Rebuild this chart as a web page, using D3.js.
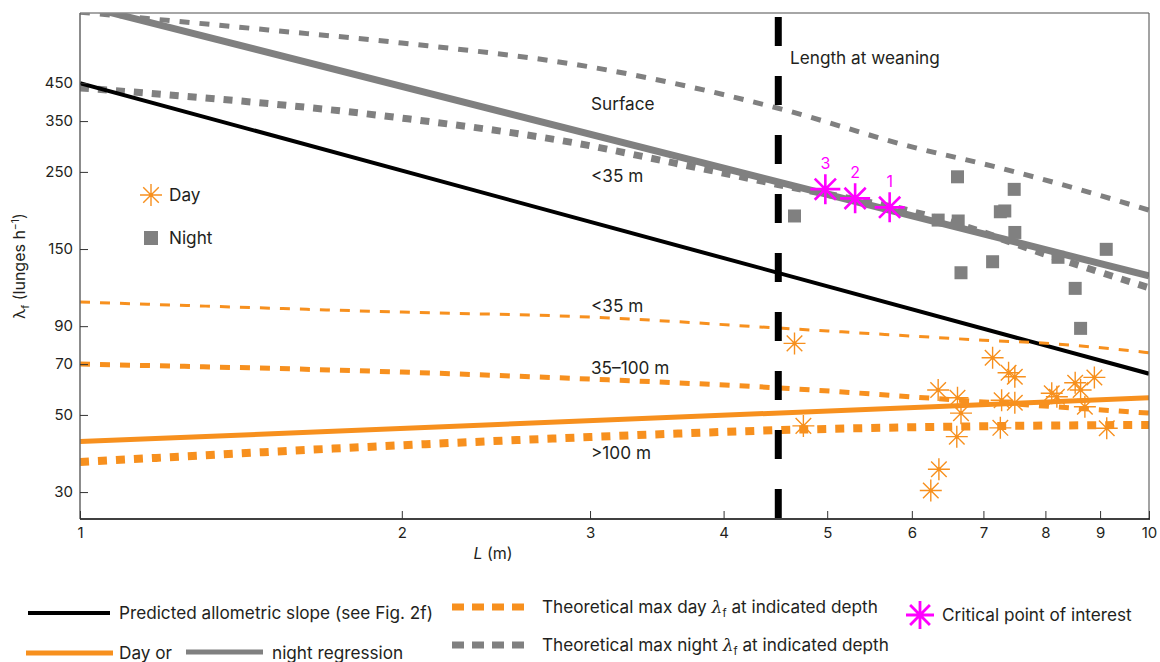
<!DOCTYPE html>
<html>
<head>
<meta charset="utf-8">
<script src="https://cdn.jsdelivr.net/npm/d3@7"></script>
<style>
  html, body { margin: 0; padding: 0; background: #fff; }
  svg { display: block; }
  text { font-family: Inter, "Liberation Sans", Arial, sans-serif; fill: #231f20; }
</style>
</head>
<body>
<svg id="chart" width="1160" height="662"></svg>
<script>
// ---------------- data ----------------
const xTicks = [1, 2, 3, 4, 5, 6, 7, 8, 9, 10];
const yTicks = [30, 50, 70, 90, 150, 250, 350, 450];

// Day observations (asterisks)
const dayL    = [4.66, 4.75, 6.35, 6.62, 6.67, 6.61, 6.36, 6.25, 7.14, 7.39, 7.49, 7.28, 7.49, 7.26, 8.11, 8.20, 8.53, 8.63, 8.89, 8.71, 9.13];
const dayRate = [80.3, 46.5, 59.0, 56.0, 50.6, 43.3, 34.9, 30.3, 73.0, 66.1, 64.4, 55.1, 54.2, 45.9, 57.7, 56.4, 61.9, 59.0, 64.1, 52.8, 45.8];

// Night observations (squares)
const nightL    = [4.66, 6.62, 6.63, 6.35, 7.48, 7.26, 7.33, 7.49, 7.14, 6.67, 8.22, 9.12, 8.53, 8.63];
const nightRate = [186.7, 242, 180.6, 181.7, 222.7, 192, 193, 167.4, 137.9, 128.2, 142, 149.7, 115.6, 88.7];

// Critical points of interest
const criticalL      = [4.98, 5.31, 5.72];
const criticalRate   = [223, 209.8, 197.7];
const criticalLabels = ["3", "2", "1"];

// Lines
const allometricL = [1, 10],  allometricRate = [450, 65.7];
const dayRegL     = [1, 10],  dayRegRate     = [41.9, 56.0];
const nightRegL   = [1, 10],  nightRegRate   = [756, 125.5];

const nightSurfaceL    = [1, 1.5, 2, 3, 4.5, 6, 7.2, 8.5, 10];
const nightSurfaceRate = [720, 640, 587, 501, 381, 295, 258, 225, 194];
const nightShallowL    = [1, 2, 2.9, 3.6, 4.5, 6.5, 8.1, 10];
const nightShallowRate = [436, 357, 303, 265, 230, 180, 143, 116];

const dayShallowL    = [1, 2, 3, 4.5, 6, 7, 8, 10];
const dayShallowRate = [105.6, 98.8, 95.6, 88.9, 84.3, 82.0, 80.4, 75.5];
const dayMidL        = [1, 2, 3, 4.5, 7, 10];
const dayMidRate     = [70, 66.4, 63.4, 59.8, 54.5, 50.6];
const dayDeepL       = [1, 2, 3, 4.5, 7, 10];
const dayDeepRate    = [36.6, 40.9, 43.2, 45.2, 46.4, 46.8];

const weaningL = 4.5;

// ---------------- layout ----------------
const ORANGE = "#f7901e", GREY = "#808080", MAGENTA = "#ff00ff";
const FONT = "Inter, Liberation Sans, Arial, sans-serif";
const FS = 17.2;
const svg = d3.select("#chart");
const pLeft = 80, pRight = 1149, pTop = 13, pBottom = 519;

const x = d3.scaleLog().domain([1, 10]).range([pLeft, pRight]);
const y = d3.scaleLog().domain([25.1, 716]).range([pBottom, pTop]);

svg.append("rect").attr("width", 1160).attr("height", 662).attr("fill", "#fff");

svg.append("defs").append("clipPath").attr("id", "plotclip")
  .append("rect").attr("x", pLeft).attr("y", pTop).attr("width", pRight - pLeft).attr("height", pBottom - pTop);

const plot = svg.append("g").attr("clip-path", "url(#plotclip)");

const line = d3.line().x(d => x(d[0])).y(d => y(d[1])).curve(d3.curveMonotoneX);
const zip = (a, b) => a.map((v, i) => [v, b[i]]);

function drawLine(L, R, color, width, dash) {
  plot.append("path").datum(zip(L, R))
    .attr("d", line).attr("fill", "none")
    .attr("stroke", color).attr("stroke-width", width)
    .attr("stroke-dasharray", dash || null);
}

// theoretical night
drawLine(nightSurfaceL, nightSurfaceRate, GREY, 5, "10,10");
drawLine(nightShallowL, nightShallowRate, GREY, 7, "9,9");
// night regression
drawLine(nightRegL, nightRegRate, GREY, 7);
// allometric
drawLine(allometricL, allometricRate, "#000", 4);
// theoretical day
drawLine(dayShallowL, dayShallowRate, ORANGE, 3, "10,10");
drawLine(dayMidL, dayMidRate, ORANGE, 5, "10,10");
drawLine(dayDeepL, dayDeepRate, ORANGE, 8, "9,9");
// day regression
drawLine(dayRegL, dayRegRate, ORANGE, 5);

// weaning line
svg.append("line")
  .attr("x1", x(weaningL)).attr("x2", x(weaningL))
  .attr("y1", 17).attr("y2", pBottom)
  .attr("stroke", "#000").attr("stroke-width", 7)
  .attr("stroke-dasharray", "29,30");

// asterisk path
function star(r) {
  const d = r * 0.7071;
  return `M${-r},0L${r},0M0,${-r}L0,${r}M${-d},${-d}L${d},${d}M${-d},${d}L${d},${-d}`;
}

// night squares
plot.selectAll(".night").data(zip(nightL, nightRate)).enter().append("rect")
  .attr("x", d => x(d[0]) - 6.5).attr("y", d => y(d[1]) - 6.5)
  .attr("width", 13).attr("height", 13).attr("fill", GREY);

// day asterisks
const dg = plot.selectAll(".day").data(zip(dayL, dayRate)).enter().append("g")
  .attr("transform", d => `translate(${x(d[0])},${y(d[1])})`);
dg.append("path").attr("d", star(11)).attr("stroke", ORANGE).attr("stroke-width", 1.4).attr("fill", "none");
dg.append("circle").attr("r", 2).attr("fill", ORANGE);

// critical points
const cg = plot.selectAll(".crit").data(criticalL.map((l, i) => ({l, r: criticalRate[i], lab: criticalLabels[i]}))).enter().append("g")
  .attr("transform", d => `translate(${x(d.l)},${y(d.r)})`);
cg.append("path").attr("d", star(15)).attr("stroke", MAGENTA).attr("stroke-width", 2.6).attr("fill", "none");
cg.append("text").attr("y", -20).attr("text-anchor", "middle").style("fill", MAGENTA)
  .attr("font-size", 16).text(d => d.lab);

// ---------------- frame & axes ----------------
svg.append("line").attr("x1", pLeft).attr("x2", pRight).attr("y1", pTop).attr("y2", pTop).attr("stroke", "#888").attr("stroke-width", 1.5);
svg.append("line").attr("x1", pRight).attr("x2", pRight).attr("y1", pTop).attr("y2", pBottom).attr("stroke", "#666").attr("stroke-width", 1.2);
svg.append("line").attr("x1", pLeft).attr("x2", pLeft).attr("y1", pTop).attr("y2", pBottom).attr("stroke", "#666").attr("stroke-width", 1.5);
svg.append("line").attr("x1", pLeft).attr("x2", pRight + 1).attr("y1", pBottom).attr("y2", pBottom).attr("stroke", "#000").attr("stroke-width", 1.5);

const xAxis = d3.axisBottom(x).tickValues(xTicks).tickFormat(d3.format("d")).tickSizeInner(-8).tickSizeOuter(0).tickPadding(8);
const gx = svg.append("g").attr("transform", `translate(0,${pBottom})`).call(xAxis);
gx.select(".domain").remove();
gx.selectAll("line").attr("stroke", "#333");
gx.selectAll("text").attr("font-size", 15).style("fill", "#231f20").attr("font-family", FONT);

const yAxis = d3.axisLeft(y).tickValues(yTicks).tickFormat(d3.format("d")).tickSizeInner(-8).tickSizeOuter(0).tickPadding(7);
const gy = svg.append("g").attr("transform", `translate(${pLeft},0)`).call(yAxis);
gy.select(".domain").remove();
gy.selectAll("line").attr("stroke", "#333");
gy.selectAll("text").attr("font-size", 15).style("fill", "#231f20").attr("font-family", FONT);

// axis titles
const xt = svg.append("text").attr("x", 493).attr("y", 559).attr("text-anchor", "middle").attr("font-size", 16);
xt.append("tspan").attr("font-style", "italic").text("L");
xt.append("tspan").text(" (m)");

const yt = svg.append("text").attr("transform", "translate(25,266) rotate(-90)").attr("text-anchor", "middle").attr("font-size", 16);
yt.append("tspan").text("λ");
yt.append("tspan").attr("font-size", 10.5).attr("dy", 4).text("f");
yt.append("tspan").attr("dy", -4).text(" (lunges h");
yt.append("tspan").attr("font-size", 10.5).attr("dy", -6).text("−1");
yt.append("tspan").attr("dy", 6).text(")");

// annotations
const ann = [
  {t: "Length at weaning", x: 790, y: 64},
  {t: "Surface", x: 591, y: 110},
  {t: "<35 m", x: 591, y: 182},
  {t: "<35 m", x: 591, y: 312},
  {t: "35–100 m", x: 591, y: 374},
  {t: ">100 m", x: 591, y: 459}
];
svg.selectAll(".ann").data(ann).enter().append("text")
  .attr("x", d => d.x).attr("y", d => d.y).attr("font-size", FS).text(d => d.t);

// inner legend
const ig = svg.append("g").attr("transform", "translate(151,195)");
ig.append("path").attr("d", star(11)).attr("stroke", ORANGE).attr("stroke-width", 1.4).attr("fill", "none");
ig.append("circle").attr("r", 2).attr("fill", ORANGE);
svg.append("text").attr("x", 169).attr("y", 201).attr("font-size", FS).text("Day");
svg.append("rect").attr("x", 144).attr("y", 231).attr("width", 14).attr("height", 14).attr("fill", GREY);
svg.append("text").attr("x", 169).attr("y", 244).attr("font-size", FS).text("Night");

// bottom legend
function legLine(x1, x2, yy, color, w, dash) {
  svg.append("line").attr("x1", x1).attr("x2", x2).attr("y1", yy).attr("y2", yy)
    .attr("stroke", color).attr("stroke-width", w).attr("stroke-dasharray", dash || null);
}
function legText(xx, yy, parts) {
  const t = svg.append("text").attr("x", xx).attr("y", yy + 6).attr("font-size", FS);
  parts.forEach(p => {
    const s = t.append("tspan").text(p.t);
    if (p.it) s.attr("font-style", "italic").attr("font-family", "DejaVu Serif, serif");
    if (p.sub) s.attr("font-size", 11).attr("dy", 4);
    if (p.up) s.attr("dy", -4);
  });
}
legLine(28, 110, 613, "#000", 4);
legText(119, 613, [{t: "Predicted allometric slope (see Fig. 2f)"}]);
legLine(26, 113, 653, ORANGE, 5);
legText(119, 653, [{t: "Day or"}]);
legLine(186, 263, 652, GREY, 5);
legText(272, 653, [{t: "night regression"}]);
legLine(452, 531, 607, ORANGE, 7, "12,8");
legText(542, 607, [{t: "Theoretical max day "}, {t: "λ", it: true}, {t: "f", sub: true}, {t: " at indicated depth", up: true}]);
legLine(452, 531, 645, GREY, 7, "12,8");
legText(542, 645, [{t: "Theoretical max night "}, {t: "λ", it: true}, {t: "f", sub: true}, {t: " at indicated depth", up: true}]);
const mg = svg.append("g").attr("transform", "translate(920,615)");
mg.append("path").attr("d", star(14)).attr("stroke", MAGENTA).attr("stroke-width", 2.8).attr("fill", "none");
legText(942, 615, [{t: "Critical point of interest"}]);
</script>
</body>
</html>
